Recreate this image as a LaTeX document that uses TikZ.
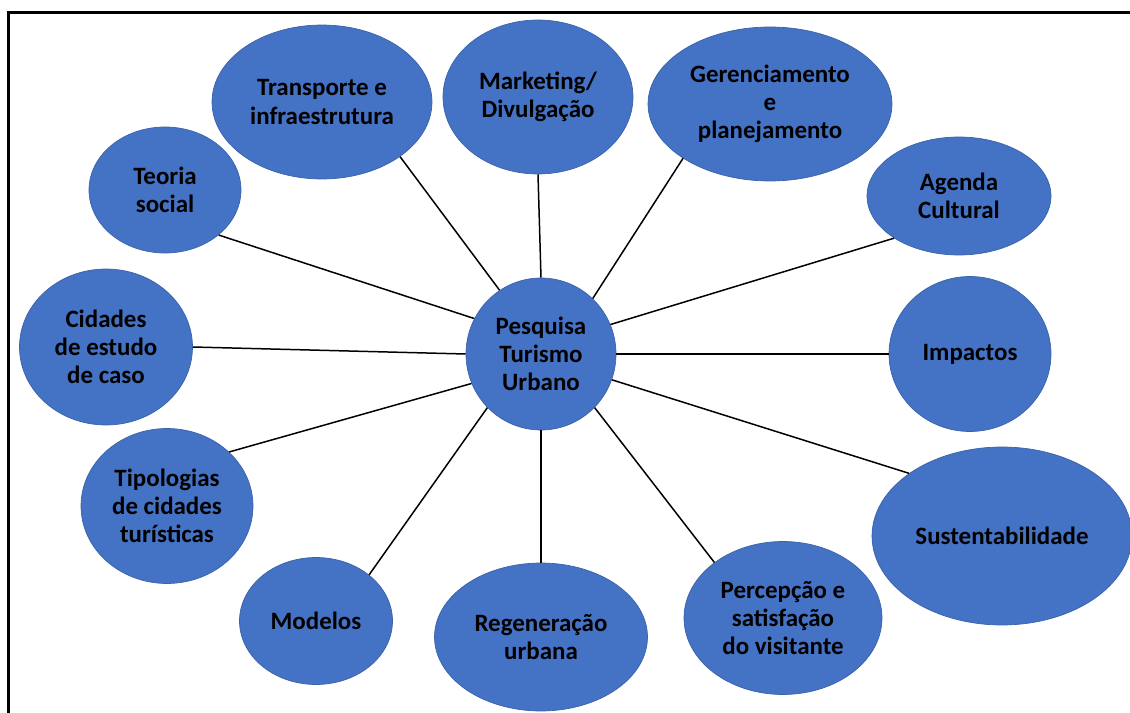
\documentclass[tikz,border=0pt]{standalone}
\usepackage{fontspec}
\setmainfont{Carlito}
\usepackage{tikz}
\usetikzlibrary{shapes.geometric}

\definecolor{bolhaazul}{HTML}{4472C4}
\definecolor{bordaazul}{HTML}{3A62AA}

\tikzset{
  bolha/.style={shape=ellipse,fill=bolhaazul,draw=bordaazul,line width=0.4pt,
    inner sep=0pt,align=center,
    font=\fontsize{14.2}{16.1}\selectfont\bfseries},
  liga/.style={draw=black,line width=0.85pt}
}

\begin{document}
\begin{tikzpicture}[x=0.02cm,y=-0.02cm]
        \useasboundingbox (0,0) rectangle (1130,713);
        \draw[line width=1.3pt] (8.5,713) -- (8.5,12.5) -- (1130,12.5);

        \node[bolha,minimum width=3.0cm,minimum height=3.04cm] (C) at (541,354) {Pesquisa\\Turismo\\Urbano};

        \node[bolha,minimum width=3.04cm,minimum height=2.52cm] (TS) at (165,190) {Teoria\\social};
        \node[bolha,minimum width=4.4cm,minimum height=3.08cm] (TI) at (322,102) {Transporte e\\infraestrutura};
        \node[bolha,minimum width=3.8cm,minimum height=3.08cm] (MD) at (538,97) {Marketing/\\Divulgação};
        \node[bolha,minimum width=4.88cm,minimum height=3.08cm] (GP) at (770,104) {Gerenciamento\\e\\planejamento};
        \node[bolha,minimum width=3.68cm,minimum height=2.36cm] (AC) at (959,196) {Agenda\\Cultural};
        \node[bolha,minimum width=3.24cm,minimum height=3.1cm] (IM) at (970,354) {Impactos};
        \node[bolha,minimum width=5.2cm,minimum height=3.56cm] (SU) at (1002,536) {Sustentabilidade};
        \node[bolha,minimum width=3.96cm,minimum height=3.06cm] (PS) at (783,618) {Percepção e\\satisfação\\do visitante};
        \node[bolha,minimum width=4.26cm,minimum height=2.96cm] (RU) at (541,637) {Regeneração\\urbana};
        \node[bolha,minimum width=3.06cm,minimum height=2.54cm] (MO) at (316,621) {Modelos};
        \node[bolha,minimum width=3.44cm,minimum height=3.1cm] (TC) at (167,506) {Tipologias\\de cidades\\turísticas};
        \node[bolha,minimum width=3.46cm,minimum height=3.12cm] (CE) at (106,347) {Cidades\\de estudo\\de caso};

        \path [liga](C.152) edge (TS.320);
        \path [liga](C.123) edge (TI.325);
        \path [liga](C.90) edge (MD.270);
        \path [liga](C.47) edge (GP.212);
        \path [liga](C.23) edge (AC.213);
        \path [liga](C.0) edge (IM.180);
        \path [liga](C.340) edge (SU.146);
        \path [liga](C.315) edge (PS.141);
        \path [liga](C.270) edge (RU.90);
        \path [liga](C.225) edge (MO.41);
        \path [liga](C.203) edge (TC.41);
        \path [liga](C.180) edge (CE.0);
    \end{tikzpicture}
\end{document}
